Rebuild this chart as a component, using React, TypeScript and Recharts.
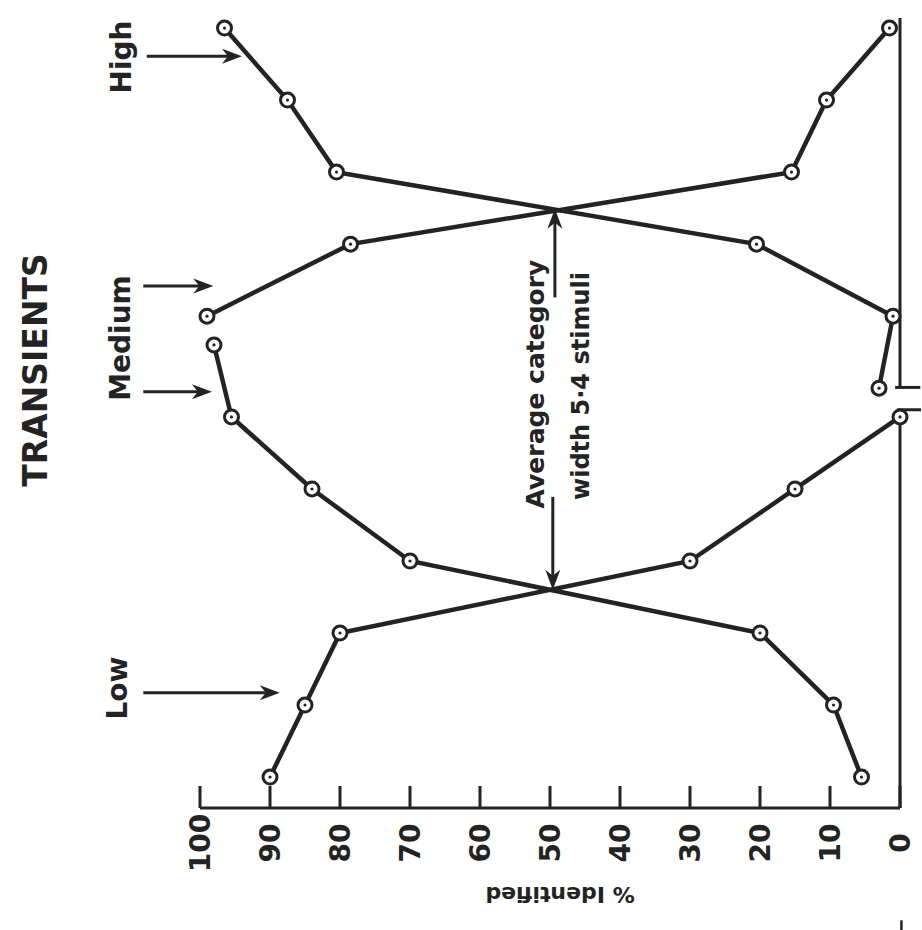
import {ScatterChart, Scatter, XAxis, YAxis, ReferenceLine} from 'recharts';

const INK = '#232323';
const FONT = '"DejaVu Sans", sans-serif';

// lower panel: Low vs Medium, stimulus number counted from the bottom
const lowerStimuli = [1, 2, 3, 4, 5, 6, 7];
const lowPct = [90, 85, 80, 30, 15, 0];
const mediumLowerPct = [5.5, 9.5, 20, 70, 84, 95.5, 98];

// upper panel: Medium vs High
const upperStimuli = [1, 2, 3, 4, 5, 6];
const highPct = [3, 1, 20.5, 80.5, 87.5, 96.5];
const mediumUpperPct = [99, 78.5, 15.5, 10.5, 1.5]; // stimuli 2-6

const pctTicks = [0, 10, 20, 30, 40, 50, 60, 70, 80, 90, 100];

const toPoints = (stimuli: number[], pct: number[]) =>
  pct.map((p, i) => ({pct: p, stim: stimuli[i]}));

const lowData = toPoints(lowerStimuli, lowPct);
const mediumLowerData = toPoints(lowerStimuli, mediumLowerPct);
const highData = toPoints(upperStimuli, highPct);
const mediumUpperData = toPoints(upperStimuli.slice(1), mediumUpperPct);

function OpenDot(props: any) {
  const {cx, cy} = props;
  if (cx == null || cy == null) return null;
  return (
    <g>
      <circle cx={cx} cy={cy} r={7} fill="#fff" stroke={INK} strokeWidth={3} />
      <circle cx={cx} cy={cy} r={1.6} fill={INK} />
    </g>
  );
}

function PctTick(props: any) {
  const {x, y, payload} = props;
  const ly = y + 35;
  return (
    <g>
      <line x1={x} x2={x} y1={y - 22} y2={y} stroke={INK} strokeWidth={3} />
      <text
        x={x}
        y={ly}
        transform={`rotate(-90 ${x} ${ly})`}
        textAnchor="middle"
        dominantBaseline="central"
        fontFamily={FONT}
        fontWeight="bold"
        fontSize={28}
        fill={INK}
      >
        {payload.value}
      </text>
    </g>
  );
}

function AxisTitle(props: any) {
  const vb = props.viewBox || {x: 200, y: 808, width: 700, height: 122};
  const cx = vb.x + vb.width / 2 + 10;
  const cy = vb.y + 86;
  return (
    <text
      x={cx}
      y={cy}
      transform={`rotate(180 ${cx} ${cy})`}
      textAnchor="middle"
      dominantBaseline="central"
      fontFamily={FONT}
      fontWeight="bold"
      fontSize={22}
      fill={INK}
    >
      % Identified
    </text>
  );
}

// arrow with a head at the second point of the segment
function Arrow(props: any) {
  const {x1, y1, x2, y2} = props;
  const dx = x2 - x1;
  const dy = y2 - y1;
  const len = Math.hypot(dx, dy) || 1;
  const ux = dx / len;
  const uy = dy / len;
  const hl = 20;
  const hw = 7.5;
  const bx = x2 - ux * hl;
  const by = y2 - uy * hl;
  const nx = bx + ux * 6;
  const ny = by + uy * 6;
  return (
    <g>
      <line x1={x1} y1={y1} x2={nx} y2={ny} stroke={INK} strokeWidth={3} />
      <polygon
        points={`${x2},${y2} ${bx - uy * hw},${by + ux * hw} ${nx},${ny} ${bx + uy * hw},${by - ux * hw}`}
        fill={INK}
      />
    </g>
  );
}

const textStyle = {
  fontFamily: FONT,
  fontWeight: 'bold' as const,
  fill: INK,
};

function RotText({x, y, size, children}: {x: number; y: number; size: number; children: string}) {
  return (
    <text
      x={x}
      y={y}
      transform={`rotate(-90 ${x} ${y})`}
      textAnchor="middle"
      dominantBaseline="central"
      fontSize={size}
      style={textStyle}
    >
      {children}
    </text>
  );
}

export default function App() {
  return (
    <div style={{position: 'absolute', left: 0, top: 0, width: 922, height: 930, background: '#fff'}}>
      <ScatterChart
        width={922}
        height={930}
        margin={{top: 18, right: 22, bottom: 0, left: 200}}
      >
        <XAxis
          type="number"
          dataKey="pct"
          domain={[0, 100]}
          ticks={pctTicks}
          interval={0}
          reversed
          height={122}
          tickSize={0}
          tickMargin={0}
          tickLine={false}
          tick={<PctTick />}
          axisLine={{stroke: INK, strokeWidth: 3}}
          label={<AxisTitle />}
        />
        {/* both panels share one step per stimulus; domains place them on the page */}
        <YAxis yAxisId="low" type="number" dataKey="stim" domain={[0.57, 11.54]} allowDataOverflow hide />
        <YAxis yAxisId="high" type="number" dataKey="stim" domain={[-4.83, 6.14]} allowDataOverflow hide />

        {/* broken stimulus axis at 0 % */}
        <ReferenceLine yAxisId="low" ifOverflow="visible" segment={[{x: 0, y: 0.57}, {x: 0, y: 6.1}]} stroke={INK} strokeWidth={3} />
        <ReferenceLine yAxisId="low" ifOverflow="visible" segment={[{x: 0.4, y: 6.1}, {x: -3, y: 6.1}]} stroke={INK} strokeWidth={3} />
        <ReferenceLine yAxisId="high" ifOverflow="visible" segment={[{x: 0, y: 1.01}, {x: 0, y: 6.14}]} stroke={INK} strokeWidth={3} />
        <ReferenceLine yAxisId="high" ifOverflow="visible" segment={[{x: 0.7, y: 1.01}, {x: -2.9, y: 1.01}]} stroke={INK} strokeWidth={3} />
        <ReferenceLine yAxisId="low" ifOverflow="visible" segment={[{x: -0.2, y: -0.99}, {x: -0.2, y: -1.13}]} stroke={INK} strokeWidth={2.5} />

        {/* category arrows */}
        <ReferenceLine yAxisId="high" ifOverflow="visible" segment={[{x: 107.6, y: 5.61}, {x: 94, y: 5.61}]} shape={Arrow} />
        <ReferenceLine yAxisId="high" ifOverflow="visible" segment={[{x: 108.1, y: 2.42}, {x: 98.1, y: 2.42}]} shape={Arrow} />
        <ReferenceLine yAxisId="low" ifOverflow="visible" segment={[{x: 108.1, y: 6.35}, {x: 98.3, y: 6.35}]} shape={Arrow} />
        <ReferenceLine yAxisId="low" ifOverflow="visible" segment={[{x: 108.1, y: 2.17}, {x: 88.6, y: 2.17}]} shape={Arrow} />

        {/* average category width */}
        <ReferenceLine yAxisId="high" ifOverflow="visible" segment={[{x: 49.3, y: 2.26}, {x: 49.3, y: 3.49}]} shape={Arrow} />
        <ReferenceLine yAxisId="low" ifOverflow="visible" segment={[{x: 49.6, y: 4.89}, {x: 49.6, y: 3.6}]} shape={Arrow} />

        <Scatter
          name="Low"
          yAxisId="low"
          data={lowData}
          fill={INK}
          line={{stroke: INK, strokeWidth: 4.5}}
          lineType="joint"
          shape={OpenDot}
          isAnimationActive={false}
        />
        <Scatter
          name="Medium"
          yAxisId="low"
          data={mediumLowerData}
          fill={INK}
          line={{stroke: INK, strokeWidth: 4.5}}
          lineType="joint"
          shape={OpenDot}
          isAnimationActive={false}
        />
        <Scatter
          name="High"
          yAxisId="high"
          data={highData}
          fill={INK}
          line={{stroke: INK, strokeWidth: 4.5}}
          lineType="joint"
          shape={OpenDot}
          isAnimationActive={false}
        />
        <Scatter
          name="Medium (upper)"
          yAxisId="high"
          data={mediumUpperData}
          fill={INK}
          line={{stroke: INK, strokeWidth: 4.5}}
          lineType="joint"
          shape={OpenDot}
          isAnimationActive={false}
        />
      </ScatterChart>

      <svg
        width={922}
        height={930}
        style={{position: 'absolute', left: 0, top: 0, pointerEvents: 'none'}}
      >
        <RotText x={35} y={370} size={33}>TRANSIENTS</RotText>
        <RotText x={121} y={57} size={28}>High</RotText>
        <RotText x={120} y={338} size={28}>Medium</RotText>
        <RotText x={117} y={688} size={28}>Low</RotText>
        <RotText x={535} y={384} size={25}>Average category</RotText>
        <RotText x={581} y={386} size={24}>width 5·4 stimuli</RotText>
      </svg>
    </div>
  );
}
